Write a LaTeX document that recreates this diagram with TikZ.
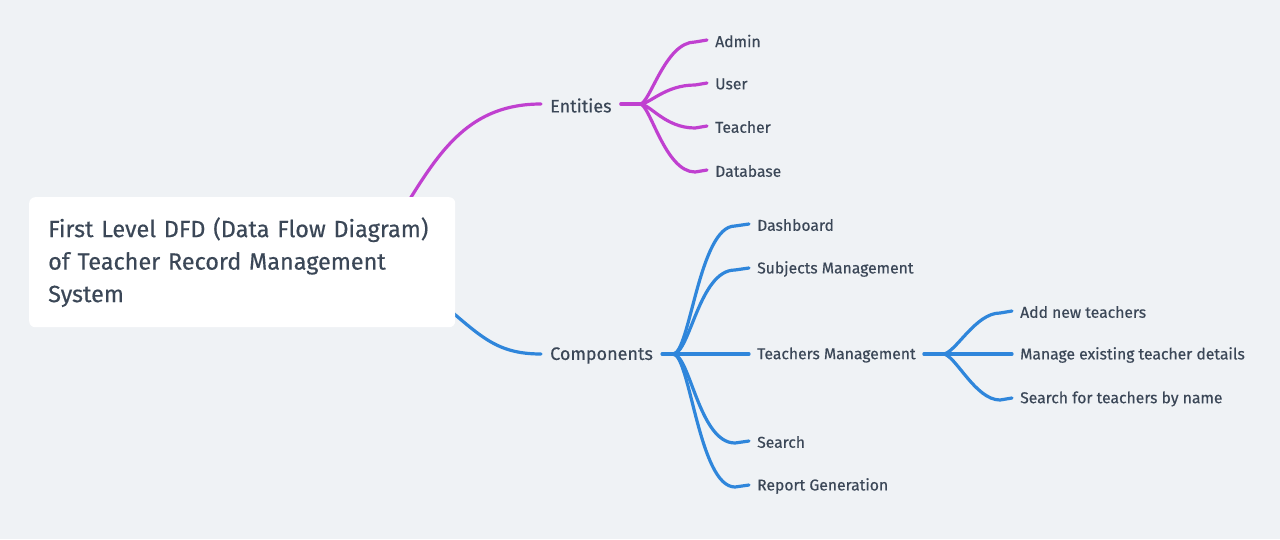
\documentclass[tikz,border=0pt]{standalone}
\usepackage{fontspec}
\setmainfont{Fira Sans}[FakeBold=0.4]
\usetikzlibrary{calc}
\definecolor{bgc}{HTML}{EFF2F5}
\definecolor{mag}{HTML}{C040D0}
\definecolor{blu}{HTML}{2F86DB}
\definecolor{txt}{HTML}{3B4757}
\pgfdeclarelayer{back}
\pgfdeclarelayer{links}
\pgfsetlayers{back,links,main}
\begin{document}
\begin{tikzpicture}[x=1pt,y=-1pt,
  leaf/.style={anchor=west, inner xsep=8pt, inner ysep=0pt, font=\fontsize{15.7}{18}\selectfont, text=txt},
  branch/.style={anchor=west, inner xsep=9pt, inner ysep=0pt, font=\fontsize{18}{22}\selectfont, text=txt},
  rootbox/.style={anchor=north west, fill=white, rounded corners=6pt, minimum width=426pt, minimum height=130pt, inner xsep=19pt, text width=388pt, align=left, font=\fontsize{23.4}{32.5}\selectfont, text=txt},
  mline/.style={draw=mag, line width=3.2pt, line cap=round},
  bline/.style={draw=blu, line width=3.2pt, line cap=round},
]
\begin{pgfonlayer}{back}
\fill[bgc] (0,0) rectangle (1280,539);
\end{pgfonlayer}
\useasboundingbox (0,0) rectangle (1280,539);

% root
\node[rootbox] (root) at (29,197) {\makebox[388pt][l]{\raisebox{-2pt}{First Level DFD (Data Flow Diagram)}}\\\raisebox{-2pt}{of Teacher Record Management}\\\raisebox{-2pt}{System}};

% main branches
\node[branch] (ent) at (541,105.5) {Entities};
\node[branch] (comp) at (541,355.5) {Components};

% entity leaves
\node[leaf] (admin) at (707,41) {Admin};
\node[leaf] (user) at (707,84) {User};
\node[leaf] (teacher) at (707,127) {Teacher};
\node[leaf] (db) at (707,171) {Database};

% component leaves
\node[leaf] (dash) at (749,225) {Dashboard};
\node[leaf] (subj) at (749,269) {Subjects Management};
\node[leaf] (tm) at (749,355) {Teachers Management};
\node[leaf] (search) at (749,442) {Search};
\node[leaf] (report) at (749,486) {Report Generation};

% teachers management leaves
\node[leaf] (add) at (1012,312) {Add new teachers};
\node[leaf] (manage) at (1012,355) {Manage existing teacher details};
\node[leaf] (sfind) at (1012,399) {Search for teachers by name};

% junctions
\coordinate (je) at (640,104);
\coordinate (jc) at (673,354);
\coordinate (jt) at (943,354);

\begin{pgfonlayer}{links}
% root to branches
\draw[mline] ($(root.north west)+(376,10)$) .. controls (440,150) and (470,104) .. ([yshift=1.5pt]ent.west);
\draw[bline] ($(root.north west)+(411,105)$) .. controls (480,335) and (495,354) .. ([yshift=1.5pt]comp.west);

% entities fan
\draw[mline] ([yshift=1.5pt]ent.east) -- (je);
\foreach \n in {admin,user,teacher,db}{
  \draw[mline] (je) .. controls +(10,0) and ($(\n.west)+(-42,1)$) .. ($(\n.west)+(-12,1)$) -- ([yshift=1pt]\n.west);
}

% components fan
\draw[bline] ([yshift=1.5pt]comp.east) -- (jc);
\foreach \n in {dash,subj,search,report}{
  \draw[bline] (jc) .. controls +(17,0) and ($(\n.west)+(-50,1)$) .. ($(\n.west)+(-14,1)$) -- ([yshift=1pt]\n.west);
}
\draw[bline] (jc) -- ([yshift=1pt]tm.west);

% teachers management fan
\draw[bline] ([yshift=1pt]tm.east) -- (jt);
\foreach \n in {add,sfind}{
  \draw[bline] (jt) .. controls +(12,0) and ($(\n.west)+(-37,1)$) .. ($(\n.west)+(-12,1)$) -- ([yshift=1pt]\n.west);
}
\draw[bline] (jt) -- ([yshift=1pt]manage.west);
\end{pgfonlayer}
\end{tikzpicture}
\end{document}
